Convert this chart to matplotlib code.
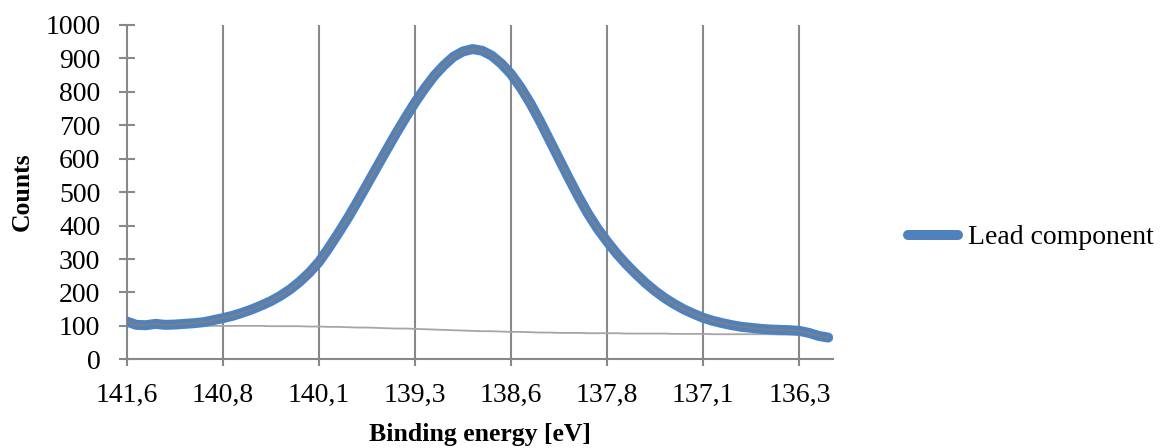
import numpy as np
import matplotlib.pyplot as plt

plt.rcParams.update({
    "font.family": ["Liberation Serif", "DejaVu Serif"],
    "font.size": 20,
})

# tick labels shown on the category axis (every 10th point)
tick_labels = ["141,6", "140,8", "140,1", "139,3", "138,6", "137,8", "137,1", "136,3"]

# Lead component counts (one value per binding-energy channel)
lead = [113, 103, 102, 106, 103, 104, 106, 108, 111, 117,
        123, 130, 139, 149, 161, 174, 190, 209, 232, 259,
        291, 332, 376, 422, 471, 522, 573, 624, 674, 722,
        768, 810, 848, 879, 905, 921, 928, 923, 908, 884,
        853, 813, 766, 713, 656, 599, 542, 487, 436, 391,
        352, 316, 284, 255, 228, 204, 183, 165, 149, 136,
        124, 115, 108, 102, 97, 94, 91, 89, 88, 87,
        85, 79, 70, 65]

# background line
background = [101, 101, 101, 101, 101, 100, 100, 100, 100, 100,
              100, 100, 100, 100, 100, 99, 99, 99, 99, 98,
              98, 97, 97, 96, 95, 95, 94, 93, 92, 92,
              91, 90, 89, 88, 87, 86, 85, 84, 84, 83,
              82, 82, 81, 80, 80, 79, 79, 79, 78, 78,
              78, 78, 77, 77, 77, 77, 77, 76, 76, 76,
              76, 75, 75, 75, 75, 75, 75, 75, 74, 74,
              74, 72, 68, 65]

W, H = 1161, 448
fig = plt.figure(figsize=(W / 100, H / 100), dpi=100)
ax = fig.add_axes([126.7 / W, (H - 359.3) / H, 706.3 / W, 334.3 / H])

x = np.arange(len(lead))
grid_col = "#898989"

ax.plot(x, background, color="#a6a6a6", lw=1.3, zorder=2)
ax.plot(x, lead, color="#4f81bd", lw=7.2, solid_capstyle="round",
        solid_joinstyle="round", label="Lead component", zorder=3)
ax.plot(x, lead, color="#808080", lw=1.2, solid_joinstyle="round", zorder=4)

ax.set_xlim(0, 73.5)
ax.set_ylim(0, 1000)
ax.set_yticks(np.arange(0, 1001, 100))
ticks = np.arange(0, 71, 10)
ax.set_xticks(ticks)
ax.set_xticklabels(tick_labels)

for t in ticks[1:]:
    ax.axvline(t, color=grid_col, lw=1.5, zorder=1)

for s in ["top", "right"]:
    ax.spines[s].set_visible(False)
for s in ["left", "bottom"]:
    ax.spines[s].set_color(grid_col)
    ax.spines[s].set_linewidth(1.5)

ax.tick_params(axis="y", direction="inout", length=12, width=1.5,
               color=grid_col, pad=13)
ax.tick_params(axis="x", direction="out", length=5, width=1.5,
               color=grid_col, pad=12)

ax.set_xlabel("Binding energy [eV]", fontweight="bold", fontsize=18.5)
ax.set_ylabel("Counts", fontweight="bold", fontsize=18.5)
ax.xaxis.set_label_coords(0.5, -0.19)
ax.yaxis.set_label_coords(-0.132, 0.5)

ax.legend(loc="center left", bbox_to_anchor=(907.5 / W, (H - 237.7) / H),
          bbox_transform=fig.transFigure, frameon=False, borderpad=0,
          borderaxespad=0, handlelength=1.8, handletextpad=0.36)

fig.savefig("out.png", dpi=100)
